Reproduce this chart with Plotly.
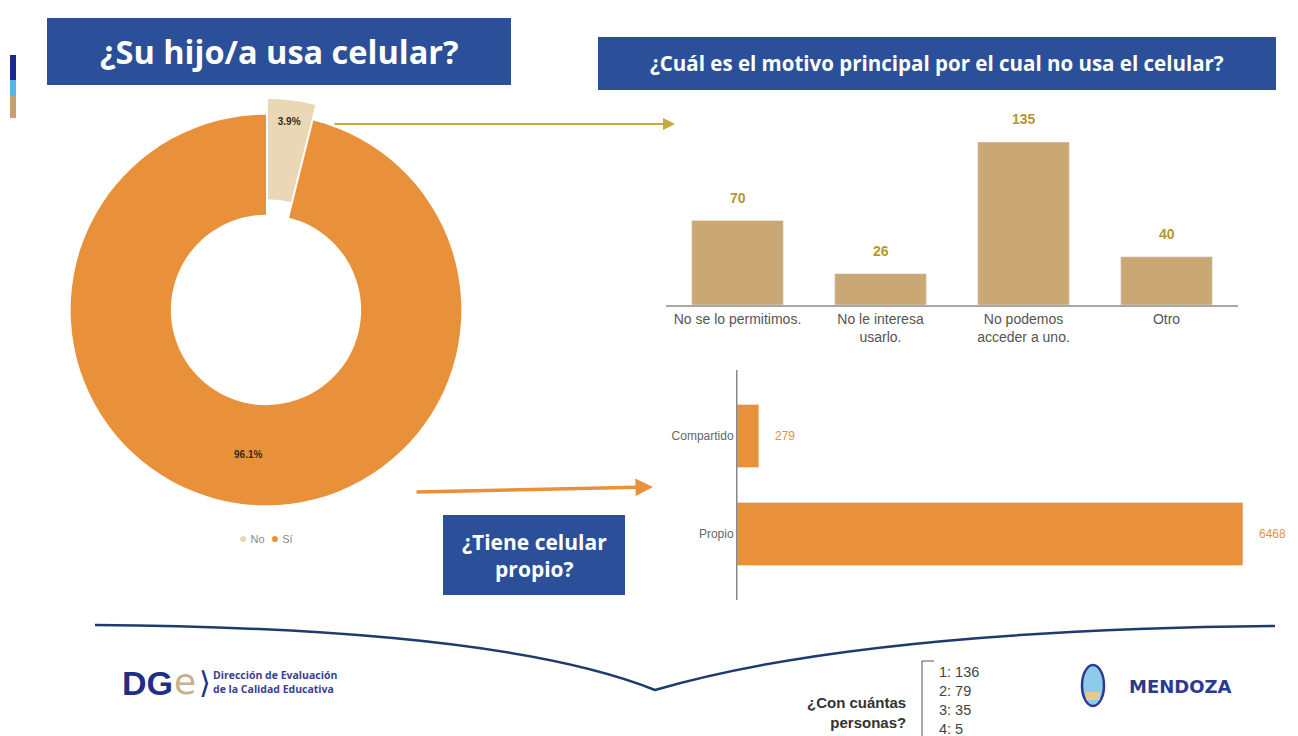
import plotly.graph_objects as go

W, H = 1298, 736
def px(x): return x / W
def py(y): return 1 - y / H

# ---------------- data ----------------
usa_labels = ["No", "Sí"]
usa_pct = [3.9, 96.1]

motivo_cats = ["No se lo permitimos.", "No le interesa usarlo.", "No podemos acceder a uno.", "Otro"]
motivo_ticks = ["No se lo permitimos.", "No le interesa<br>usarlo.", "No podemos<br>acceder a uno.", "Otro"]
motivo_vals = [70, 26, 135, 40]

propio_cats = ["Propio", "Compartido"]
propio_vals = [6468, 279]

personas_lines = ["1: 136", "2: 79", "3: 35", "4: 5"]

# ---------------- colours ----------------
BLUE = "#2B4F98"
NAVY = "#1F2F86"
ORANGE = "#E8913A"
BEIGE = "#EAD7B6"
TAN = "#C9A874"
GOLD = "#B8962E"
FONT = "Liberation Sans, Arial, sans-serif"
TFONT = "Open Sans, Noto Sans, sans-serif"

fig = go.Figure()

fig.add_trace(go.Pie(
    labels=usa_labels, values=usa_pct, hole=0.487, pull=[0.08, 0],
    sort=False, direction="clockwise", rotation=0,
    marker=dict(colors=[BEIGE, ORANGE]),
    texttemplate="<b>%{percent:.1%}</b>", textposition="inside",
    insidetextorientation="horizontal",
    textfont=dict(size=10, color="#3a2a18", family=FONT),
    showlegend=False, hoverinfo="label+percent",
    domain=dict(x=[px(55), px(477)], y=[py(521), py(99)]),
))

fig.add_trace(go.Bar(
    x=motivo_cats, y=motivo_vals, marker_color=TAN, xaxis="x", yaxis="y",
    showlegend=False, hoverinfo="x+y",
))

fig.add_trace(go.Bar(
    x=propio_vals, y=propio_cats, orientation="h", marker_color=ORANGE,
    xaxis="x2", yaxis="y2", showlegend=False, hoverinfo="x+y", width=0.643,
))

annotations = []
for c, v in zip(motivo_cats, motivo_vals):
    annotations.append(dict(x=c, y=v, xref="x", yref="y", text=f"<b>{v}</b>",
                            showarrow=False, xanchor="center", yanchor="bottom", yshift=13,
                            font=dict(size=14, color=GOLD, family=FONT)))
for c, v in zip(propio_cats, propio_vals):
    annotations.append(dict(x=v, y=c, xref="x2", yref="y2", text=str(v),
                            showarrow=False, xanchor="left", yanchor="middle", xshift=14,
                            font=dict(size=12, color=ORANGE, family=FONT)))

def note(x, y, text, size, color, family=TFONT, xanchor="center", yanchor="middle", align="center"):
    return dict(x=px(x), y=py(y), xref="paper", yref="paper", showarrow=False,
                xanchor=xanchor, yanchor=yanchor, align=align, text=text,
                font=dict(size=size, color=color, family=family))

# title boxes text
annotations += [
    note(279, 52, "<b>¿Su hijo/a usa celular?</b>", 32.5, "white"),
    note(937, 63, "<b>¿Cuál es el motivo principal por el cual no usa el celular?</b>", 20.5, "white"),
    note(534, 555, "<b>¿Tiene celular<br>propio?</b>", 21, "white"),
]

# legend for pie
annotations.append(note(
    266, 538,
    f"<span style='color:{BEIGE};font-size:14px'>●</span> No  <span style='color:{ORANGE};font-size:14px'>●</span> Sí",
    11, "#8a8a8a", family=FONT))

# arrows
annotations.append(dict(x=px(675), y=py(124), xref="paper", yref="paper", text="",
                        showarrow=True, ax=-(675 - 333), ay=0, arrowhead=2, arrowsize=1.2,
                        arrowwidth=2, arrowcolor="#C8A83A"))
annotations.append(dict(x=px(653), y=py(487), xref="paper", yref="paper", text="",
                        showarrow=True, ax=-(653 - 415), ay=5, arrowhead=2, arrowsize=1,
                        arrowwidth=3.5, arrowcolor=ORANGE))

# footer
DJ = "DejaVu Sans, sans-serif"
annotations += [
    note(120, 683, "<b>DG</b>", 34, NAVY, family=FONT, xanchor="left"),
    note(172, 681, "e", 36, "#C8B08A", family=DJ, xanchor="left"),
    note(197, 682, "⟩", 30, NAVY, family=DJ, xanchor="left"),
    note(211, 682, "<b>Dirección de Evaluación<br>de la Calidad Educativa</b>", 10.5, "#3A3F8F",
         xanchor="left", align="left"),
    note(908, 712, "<b>¿Con cuántas<br>personas?</b>", 15, "#333333", family=FONT,
         xanchor="right", align="right"),
    note(937, 662, "<br>".join(personas_lines), 14.5, "#444444", family=FONT,
         xanchor="left", yanchor="top", align="left"),
    note(1127, 686, "<b>MENDOZA</b>", 18, "#2B3990", family=DJ, xanchor="left"),
]

def rect(x0, y0, x1, y1, fill):
    return dict(type="rect", xref="paper", yref="paper", x0=px(x0), x1=px(x1),
                y0=py(y1), y1=py(y0), fillcolor=fill,
                line=dict(color=fill, width=0), layer="below")

shapes = [
    rect(47, 18, 511, 85, BLUE),
    rect(598, 37, 1276, 90, BLUE),
    rect(443, 515, 625, 595, BLUE),
    # left edge strip
    rect(10, 55, 16, 80, "#1A2A8C"),
    rect(10, 80, 16, 96, "#5BB4E0"),
    rect(10, 96, 16, 118, "#C8A070"),
    # horizontal-bar axis line extension
    dict(type="line", xref="paper", yref="paper", x0=px(737), x1=px(737),
         y0=py(600), y1=py(370), line=dict(color="#888888", width=1)),
    # bracket
    dict(type="line", xref="paper", yref="paper", x0=px(922), x1=px(922),
         y0=py(736), y1=py(661), line=dict(color="#555555", width=1)),
    dict(type="line", xref="paper", yref="paper", x0=px(922), x1=px(934),
         y0=py(661), y1=py(661), line=dict(color="#555555", width=1)),
    # mendoza emblem
    dict(type="circle", xref="paper", yref="paper", x0=px(1082), x1=px(1104),
         y0=py(706), y1=py(665), fillcolor="#8CCBEB", line=dict(color="#2B3990", width=2.5)),
    dict(type="rect", xref="paper", yref="paper", x0=px(1086), x1=px(1100),
         y0=py(700), y1=py(692), fillcolor="#E7C98F", line=dict(width=0)),
]

def P(x, y): return f"{px(x):.5f},{py(y):.5f}"
curve = f"M {P(95,625)} Q {P(500,628)} {P(655,690)} Q {P(860,630)} {P(1275,626)}"
shapes.append(dict(type="path", xref="paper", yref="paper", path=curve,
                   line=dict(color="#1E3A6E", width=2.5)))

fig.update_layout(
    width=W, height=H, margin=dict(l=0, r=0, t=0, b=0),
    paper_bgcolor="white", plot_bgcolor="rgba(0,0,0,0)",
    bargap=0.36,
    xaxis=dict(domain=[px(666), px(1238)], anchor="y", showline=True, linecolor="#A8A8A8",
               linewidth=1.5, ticks="", showgrid=False, zeroline=False,
               tickvals=motivo_cats, ticktext=motivo_ticks,
               tickfont=dict(size=14, color="#555555", family=FONT), fixedrange=True),
    yaxis=dict(domain=[py(305), py(124)], anchor="x", range=[0, 150], visible=False,
               fixedrange=True),
    xaxis2=dict(domain=[px(737), px(1290)], anchor="y2", range=[0, 7070], visible=False,
                fixedrange=True),
    yaxis2=dict(domain=[py(600), py(370)], anchor="x2", range=[-0.673, 1.673],
                categoryorder="array", categoryarray=propio_cats, showline=True,
                linecolor="#888888", ticks="", showgrid=False, zeroline=False,
                tickfont=dict(size=12, color="#666666", family=FONT), fixedrange=True),
    annotations=annotations, shapes=shapes,
)

fig.write_html("out.html", config={"displayModeBar": False},
               post_script="document.body.style.margin='0';")
